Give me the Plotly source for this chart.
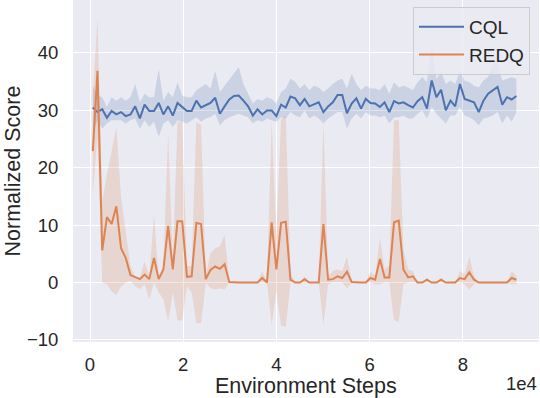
import plotly.graph_objects as go

steps = list(range(600, 91501, 1010))

cql_mean = [30.5, 29.7, 30.2, 28.7, 29.9, 29.3, 29.7, 29.0, 29.3, 30.7,
            28.6, 31.0, 29.9, 29.9, 31.3, 29.3, 30.7, 29.1, 31.3, 30.6,
            29.9, 29.9, 31.7, 30.5, 30.9, 31.3, 32.2, 29.4, 30.7, 31.9,
            32.5, 32.6, 31.7, 30.7, 29.1, 30.2, 29.3, 30.0, 30.0, 29.0,
            31.0, 30.5, 32.4, 32.1, 30.9, 32.0, 30.7, 31.0, 31.4, 29.7,
            30.7, 31.4, 32.7, 32.7, 29.5, 31.2, 32.1, 30.3, 32.0, 31.3,
            31.2, 30.6, 31.4, 29.7, 31.6, 31.2, 31.4, 30.9, 30.5, 31.6,
            32.3, 30.3, 35.2, 32.3, 33.6, 30.0, 31.7, 30.7, 34.6, 32.0,
            31.7, 31.4, 29.7, 31.7, 32.9, 33.5, 34.1, 31.0, 32.3, 31.9,
            32.5]
cql_upper = [34.3, 32.6, 32.3, 30.6, 32.3, 31.7, 32.3, 31.7, 32.3, 34.6,
             31.4, 32.9, 32.3, 32.3, 37.2, 31.7, 33.2, 32.3, 34.9, 32.6,
             32.3, 32.3, 33.5, 34.0, 34.6, 33.8, 36.9, 33.2, 34.3, 35.5,
             36.4, 37.5, 34.6, 32.9, 31.2, 32.0, 31.7, 32.3, 32.0, 31.2,
             33.2, 33.8, 35.5, 35.0, 33.8, 34.6, 33.5, 34.3, 34.0, 33.2,
             33.8, 34.6, 35.2, 35.5, 33.8, 36.4, 34.6, 33.5, 34.3, 33.8,
             33.8, 33.5, 34.6, 32.9, 34.9, 34.0, 34.3, 34.0, 33.5, 34.9,
             35.8, 34.9, 41.6, 35.5, 36.7, 34.6, 35.2, 34.6, 36.9, 35.2,
             34.9, 34.3, 34.0, 35.2, 35.8, 38.1, 38.4, 35.2, 35.5, 35.8,
             35.5]
cql_lower = [26.2, 28.3, 26.8, 27.7, 28.3, 28.3, 28.3, 27.7, 28.3, 28.6,
             26.8, 28.3, 27.1, 28.0, 25.4, 27.7, 28.3, 27.1, 28.3, 28.0,
             27.7, 28.3, 28.8, 28.0, 28.6, 28.8, 29.4, 27.4, 28.3, 28.8,
             29.1, 29.4, 29.1, 28.8, 27.7, 28.3, 28.0, 28.6, 28.3, 28.0,
             28.8, 28.6, 29.7, 29.1, 28.8, 30.0, 28.6, 29.1, 28.6, 27.7,
             28.6, 29.1, 29.7, 29.7, 26.8, 28.6, 29.4, 28.6, 29.7, 29.1,
             29.1, 28.8, 29.1, 27.7, 28.8, 28.8, 29.1, 28.6, 28.6, 29.4,
             30.0, 28.6, 30.6, 29.4, 28.6, 27.7, 29.1, 29.1, 30.6, 29.1,
             28.8, 28.3, 27.4, 28.6, 28.8, 29.1, 29.7, 27.7, 29.1, 28.0,
             29.7]

redq_mean = [22.9, 36.9, 5.6, 11.4, 10.2, 13.3, 6.0, 4.3, 1.3, 0.9,
             0.6, 1.4, 0.6, 4.3, 0.6, 2.3, 9.9, 2.3, 10.7, 10.7,
             1.0, 1.1, 10.4, 10.2, 0.6, 2.2, 2.8, 2.4, 3.2, 0.1,
             0.0, 0.0, 0.0, 0.0, 0.0, 0.0, 0.8, 0.0, 10.5, 2.3,
             10.4, 10.6, 0.5, 0.0, 0.0, 0.6, 0.0, 0.0, 0.0, 10.2,
             0.5, 0.6, 1.1, 0.8, 1.9, 0.1, 0.0, 0.0, 0.0, 0.8,
             0.5, 4.1, 0.9, 0.9, 10.5, 10.8, 2.3, 0.9, 1.1, 0.0,
             0.0, 0.5, 0.0, 0.0, 0.5, 0.0, 0.0, 0.0, 0.8, 0.6,
             1.8, 0.5, 0.0, 0.0, 0.0, 0.0, 0.0, 0.0, 0.0, 0.8,
             0.5]
redq_upper = [32.6, 46.0, 14.0, 18.9, 22.9, 27.1, 14.9, 8.6, 2.9, 1.1,
              0.9, 3.7, 1.1, 11.7, 1.1, 2.9, 26.0, 4.0, 28.0, 28.0,
              2.9, 2.9, 28.0, 27.4, 1.1, 5.1, 6.0, 6.3, 8.3, 0.3,
              0.0, 0.0, 0.0, 0.0, 0.0, 0.0, 2.0, 0.0, 28.0, 8.0,
              28.5, 29.0, 1.5, 0.0, 0.0, 1.1, 0.0, 0.0, 0.0, 28.0,
              1.1, 2.0, 2.3, 2.0, 4.5, 0.3, 0.0, 0.0, 0.0, 1.9,
              1.1, 7.8, 2.3, 3.0, 28.3, 28.3, 5.7, 2.3, 2.0, 0.0,
              0.0, 0.8, 0.0, 0.0, 0.8, 0.0, 0.0, 0.0, 2.0, 1.4,
              4.5, 1.1, 0.0, 0.0, 0.0, 0.0, 0.0, 0.0, 0.0, 2.0,
              1.1]
redq_lower = [15.1, 25.7, 0.0, -0.3, -1.5, -2.2, -0.7, 0.0, 0.3, -0.6,
              -1.1, -0.3, -2.9, 0.0, -1.7, -2.9, -6.8, -1.7, -6.6, -6.6,
              -0.6, -1.7, -7.1, -7.1, 0.0, -1.0, -1.2, -1.0, -1.2, 0.0,
              0.0, 0.0, 0.0, 0.0, 0.0, 0.0, 0.0, 0.0, -7.3, -1.5,
              -7.5, -7.7, 0.0, 0.0, 0.0, 0.0, 0.0, 0.0, 0.0, -7.3,
              -0.3, 0.0, 0.0, 0.0, -1.0, 0.0, 0.0, 0.0, 0.0, 0.0,
              -0.3, -0.3, 0.0, 0.0, -6.5, -6.9, -0.3, 0.0, 0.0, 0.0,
              0.0, 0.0, 0.0, 0.0, 0.0, 0.0, 0.0, 0.0, 0.0, -0.3,
              -1.2, -0.3, 0.0, 0.0, 0.0, 0.0, 0.0, 0.0, 0.0, -0.3,
              -0.3]

x_tickvals = [0, 20000, 40000, 60000, 80000]
x_ticktext = ["0", "2", "4", "6", "8"]
y_tickvals = [-10, 0, 10, 20, 30, 40]

BLUE = "#4C72B0"
ORANGE = "#DD8452"
TEXT = "#262626"
FONT = "Liberation Sans, Arial, sans-serif"

fig = go.Figure()


def add_series(name, mean, lo, hi, color, fill):
    fig.add_trace(go.Scatter(x=steps, y=hi, mode="lines", line=dict(width=0),
                             hoverinfo="skip", showlegend=False))
    fig.add_trace(go.Scatter(x=steps, y=lo, mode="lines", line=dict(width=0),
                             fill="tonexty", fillcolor=fill,
                             hoverinfo="skip", showlegend=False))
    fig.add_trace(go.Scatter(x=steps, y=mean, mode="lines", name=name,
                             line=dict(color=color, width=2)))


add_series("CQL", cql_mean, cql_lower, cql_upper, BLUE, "rgba(76,114,176,0.2)")
add_series("REDQ", redq_mean, redq_lower, redq_upper, ORANGE, "rgba(221,132,82,0.2)")

fig.update_layout(
    width=540, height=398,
    margin=dict(l=73, r=1, t=0, b=56),
    paper_bgcolor="white",
    plot_bgcolor="#EAEAF2",
    font=dict(family=FONT, color=TEXT, size=18),
    showlegend=True,
    legend=dict(
        x=0.9807, y=0.98, xanchor="right", yanchor="top",
        traceorder="normal", itemwidth=45,
        bgcolor="rgba(234,234,242,0.8)", bordercolor="#cccccc", borderwidth=1,
        font=dict(size=19, color=TEXT, family=FONT),
    ),
    xaxis=dict(
        range=[-3650, 96350], tickvals=x_tickvals, ticktext=x_ticktext,
        showgrid=True, gridcolor="white", gridwidth=1.3, zeroline=False,
        showline=False, ticks="outside", ticklen=6, tickcolor="rgba(0,0,0,0)",
        tickfont=dict(size=18.5, color=TEXT, family=FONT),
    ),
    yaxis=dict(
        range=[-10.35, 49.23], tickvals=y_tickvals,
        showgrid=True, gridcolor="white", gridwidth=1.3, zeroline=False,
        showline=False, ticks="outside", ticklen=10, tickcolor="rgba(0,0,0,0)",
        tickfont=dict(size=18.5, color=TEXT, family=FONT),
    ),
    annotations=[
        dict(text="Environment Steps", xref="paper", yref="paper",
             x=0.5, y=(342 - 386) / 342, xanchor="center", yanchor="middle",
             showarrow=False, font=dict(size=21.5, color=TEXT, family=FONT)),
        dict(text="Normalized Score", xref="paper", yref="paper",
             x=(12.5 - 73) / 466, y=0.5, xanchor="center", yanchor="middle",
             textangle=-90, showarrow=False,
             font=dict(size=21.5, color=TEXT, family=FONT)),
        dict(text="1e4", xref="paper", yref="paper",
             x=1.0, y=(342 - 383) / 342, xanchor="right", yanchor="middle",
             showarrow=False, font=dict(size=18.5, color=TEXT, family=FONT)),
    ],
)

fig.write_html(
    "out.html",
    config={"displayModeBar": False},
    post_script="document.body.style.margin='0';document.body.style.padding='0';",
)
